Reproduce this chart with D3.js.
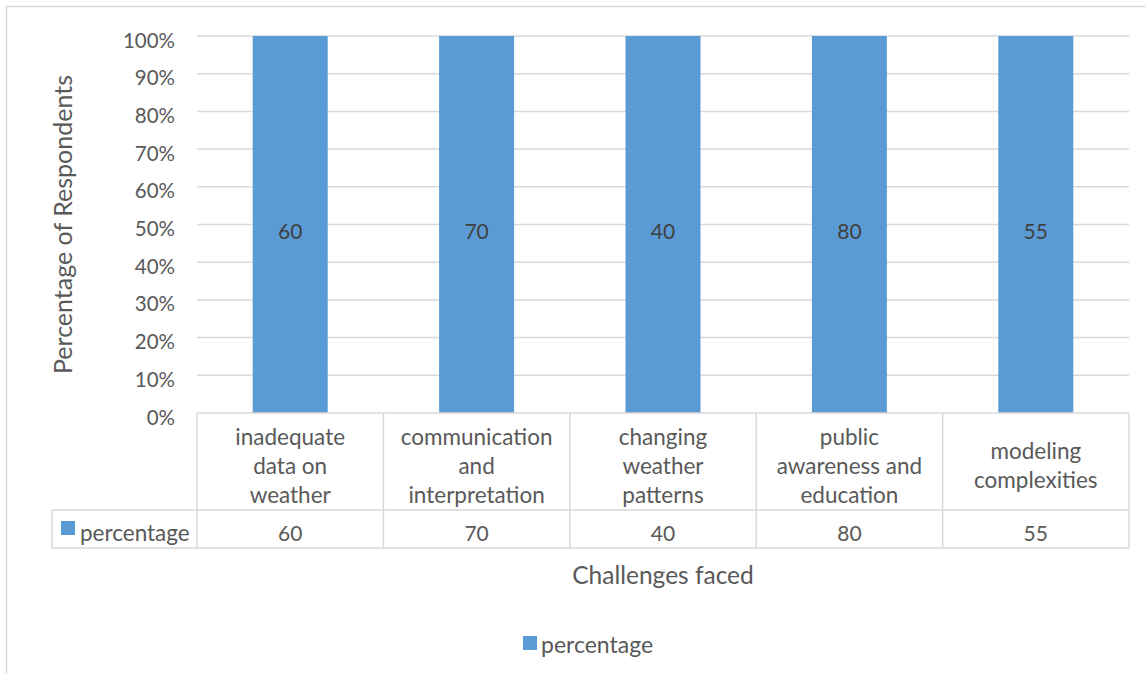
<!DOCTYPE html>
<html>
<head>
<meta charset="utf-8">
<script src="https://cdn.jsdelivr.net/npm/d3@7"></script>
<style>
  body { margin: 0; background: #fff; }
  svg { display: block; font-family: Lato, "Open Sans", sans-serif; }
</style>
</head>
<body>
<svg id="chart" width="1145" height="673"></svg>
<script>
// chart data
const categories = [
    ["inadequate", "data on", "weather"],
    ["communication", "and", "interpretation"],
    ["changing", "weather", "patterns"],
    ["public", "awareness and", "education"],
    ["modeling", "complexities"]
];
const seriesName = "percentage";
const percentage = [60, 70, 40, 80, 55];
const yTicks = [0, 0.1, 0.2, 0.3, 0.4, 0.5, 0.6, 0.7, 0.8, 0.9, 1];

const svg = d3.select("#chart");
const grey = "#d9d9d9";
const textColor = "#595959";
const barColor = "#5b9bd5";

// outer chart border (right/bottom fall outside the picture)
svg.append("rect")
    .attr("x", 6.5).attr("y", 6.5)
    .attr("width", 1160).attr("height", 700)
    .attr("fill", "none").attr("stroke", grey).attr("stroke-width", 1.5);

const plotLeft = 197, plotRight = 1129, plotTop = 36, plotBottom = 413;

const x = d3.scaleBand()
    .domain(d3.range(categories.length))
    .range([plotLeft, plotRight])
    .paddingInner(0).paddingOuter(0);

const y = d3.scaleLinear()
    .domain([0, 1])
    .range([plotBottom, plotTop]);

// 100% stacked: a single series fills each column
const rows = percentage.map((v, i) => ({i: i, percentage: v}));
const stacked = d3.stack().keys([seriesName]).offset(d3.stackOffsetExpand)(rows);

// gridlines
svg.append("g")
    .selectAll("line")
    .data(yTicks.slice(1))
    .join("line")
    .attr("x1", plotLeft).attr("x2", plotRight)
    .attr("y1", d => y(d)).attr("y2", d => y(d))
    .attr("stroke", grey).attr("stroke-width", 1.5);

// y tick labels
svg.append("g")
    .selectAll("text")
    .data(yTicks)
    .join("text")
    .attr("x", 175)
    .attr("y", d => y(d) + 11.5)
    .attr("text-anchor", "end")
    .attr("fill", textColor)
    .attr("font-size", 20.5)
    .text(d3.format(".0%"));

// bars
const barW = 75;
svg.append("g")
    .selectAll("rect")
    .data(stacked[0])
    .join("rect")
    .attr("x", (d, i) => x(i) + x.bandwidth() / 2 - barW / 2)
    .attr("y", d => y(d[1]))
    .attr("width", barW)
    .attr("height", d => y(d[0]) - y(d[1]))
    .attr("fill", barColor);

// data labels
svg.append("g")
    .selectAll("text")
    .data(stacked[0])
    .join("text")
    .attr("x", (d, i) => x(i) + x.bandwidth() / 2)
    .attr("y", d => y((d[0] + d[1]) / 2) + 14.5)
    .attr("text-anchor", "middle")
    .attr("fill", "#404040")
    .attr("font-size", 21)
    .text(d => d.data.percentage);

// data table
const rowTop = plotBottom, rowMid = 510, rowBot = 548, keyLeft = 52;
const table = svg.append("g").attr("stroke", grey).attr("stroke-width", 1.5);
table.append("line").attr("x1", plotLeft).attr("x2", plotRight).attr("y1", rowTop).attr("y2", rowTop);
table.append("line").attr("x1", keyLeft).attr("x2", plotRight).attr("y1", rowMid).attr("y2", rowMid);
table.append("line").attr("x1", keyLeft).attr("x2", plotRight).attr("y1", rowBot).attr("y2", rowBot);
table.append("line").attr("x1", keyLeft).attr("x2", keyLeft).attr("y1", rowMid).attr("y2", rowBot);
table.selectAll(".v")
    .data(d3.range(categories.length + 1))
    .join("line")
    .attr("x1", i => i < categories.length ? x(i) : plotRight)
    .attr("x2", i => i < categories.length ? x(i) : plotRight)
    .attr("y1", rowTop).attr("y2", rowBot);

// category labels
const lineH = 29;
svg.append("g")
    .selectAll("text")
    .data(categories)
    .join("text")
    .attr("x", (d, i) => x(i) + x.bandwidth() / 2)
    .attr("y", d => (rowTop + rowMid) / 2 - (d.length - 1) * lineH / 2 + 12)
    .attr("text-anchor", "middle")
    .attr("fill", textColor)
    .attr("font-size", 22.5)
    .each(function(d) {
        d3.select(this).selectAll("tspan")
            .data(d)
            .join("tspan")
            .attr("x", d3.select(this).attr("x"))
            .attr("dy", (t, j) => j === 0 ? 0 : lineH)
            .text(t => t);
    });

// value row
svg.append("g")
    .selectAll("text")
    .data(percentage)
    .join("text")
    .attr("x", (d, i) => x(i) + x.bandwidth() / 2)
    .attr("y", (rowMid + rowBot) / 2 + 11.5)
    .attr("text-anchor", "middle")
    .attr("fill", textColor)
    .attr("font-size", 21)
    .text(d => d);

// legend key in table
svg.append("rect").attr("x", 61).attr("y", 521).attr("width", 14).attr("height", 14).attr("fill", barColor);
svg.append("text")
    .attr("x", 80).attr("y", (rowMid + rowBot) / 2 + 12)
    .attr("fill", textColor).attr("font-size", 22.5)
    .text(seriesName);

// axis titles
svg.append("text")
    .attr("transform", "translate(72," + ((plotTop + plotBottom) / 2) + ") rotate(-90)")
    .attr("text-anchor", "middle")
    .attr("fill", textColor).attr("font-size", 25)
    .text("Percentage of Respondents");

svg.append("text")
    .attr("x", (plotLeft + plotRight) / 2).attr("y", 584)
    .attr("text-anchor", "middle")
    .attr("fill", textColor).attr("font-size", 24.5)
    .text("Challenges faced");

// bottom legend
svg.append("rect").attr("x", 523).attr("y", 636).attr("width", 14).attr("height", 14).attr("fill", barColor);
svg.append("text")
    .attr("x", 541).attr("y", 653)
    .attr("fill", textColor).attr("font-size", 23)
    .text(seriesName);
</script>
</body>
</html>
